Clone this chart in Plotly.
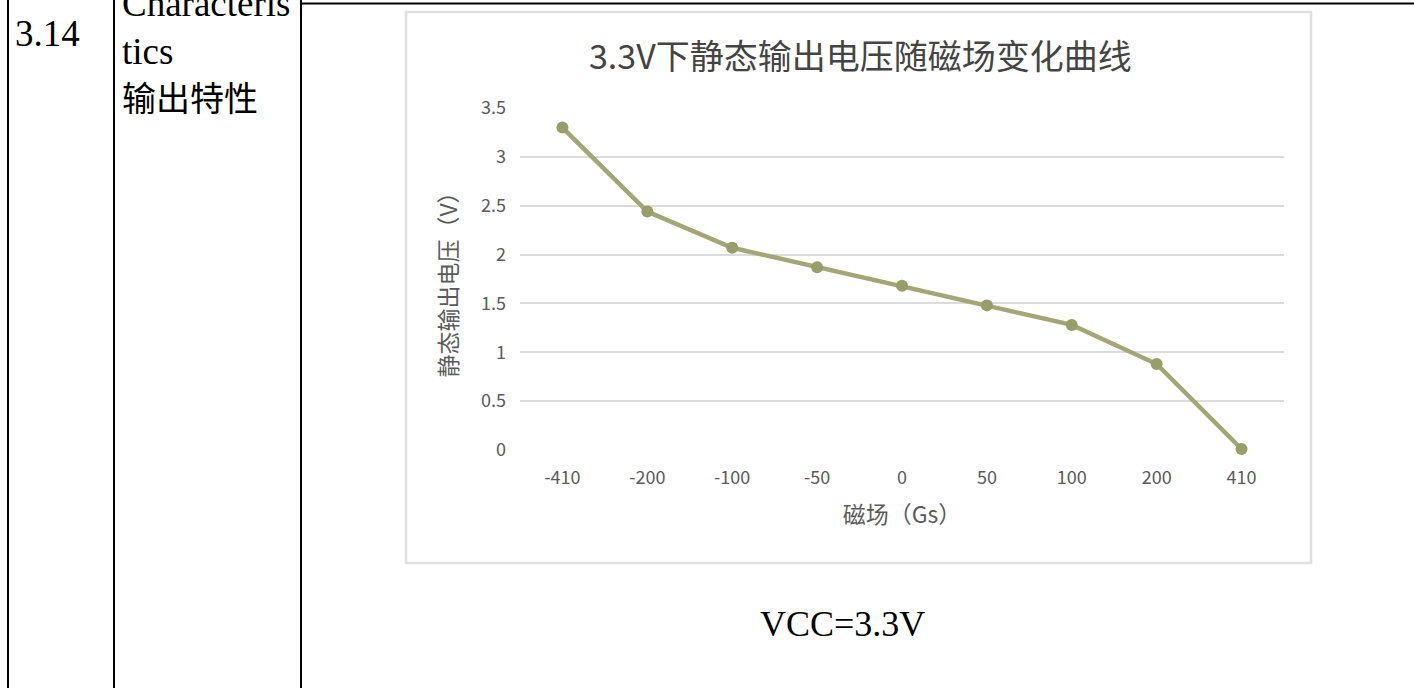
import plotly.graph_objects as go

# ---- data ----
field_labels = ["-410", "-200", "-100", "-50", "0", "50", "100", "200", "410"]
voltage = [3.30, 2.44, 2.07, 1.87, 1.68, 1.48, 1.28, 0.88, 0.01]
y_ticks = [0, 0.5, 1, 1.5, 2, 2.5, 3, 3.5]
y_tick_text = ["0", "0.5", "1", "1.5", "2", "2.5", "3", "3.5"]

W, H = 1414, 688


def px(x):
    return x / W


def py(y):
    return 1 - y / H


GRAY = "#5a5a5a"
CJK = "Noto Sans CJK SC, Noto Sans, sans-serif"
SERIF = "Liberation Serif, Times New Roman, serif"

fig = go.Figure()
fig.add_trace(go.Scatter(
    x=field_labels, y=voltage, mode="lines+markers",
    line=dict(color="#a3a675", width=4.5),
    marker=dict(color="#999d69", size=12, line=dict(color="#999d69", width=0)),
    cliponaxis=False, showlegend=False,
))

fig.update_layout(
    template="none",
    width=W, height=H,
    margin=dict(l=0, r=0, t=0, b=0, pad=0, autoexpand=False),
    paper_bgcolor="white", plot_bgcolor="white",
    xaxis=dict(
        domain=[px(520), px(1284)], type="category", automargin=False,
        range=[-0.5, 8.5], showgrid=False, zeroline=False, showline=False,
        ticks="", ticklabelstandoff=15,
        tickfont=dict(family=CJK, size=18, color=GRAY),
        title=dict(text="磁场（Gs）", font=dict(family=CJK, size=23, color=GRAY), standoff=18),
    ),
    yaxis=dict(
        domain=[py(450), py(108)], range=[0, 3.5], automargin=False,
        tickvals=y_ticks, ticktext=y_tick_text,
        showgrid=True, gridcolor="#dcdcdc", gridwidth=1.5,
        zeroline=False, showline=False, ticks="", ticklabelstandoff=13,
        tickfont=dict(family=CJK, size=18, color=GRAY),
        title=dict(text="静态输出电压（V）", font=dict(family=CJK, size=23, color=GRAY), standoff=16),
    ),
    shapes=[
        # chart picture frame
        dict(type="rect", xref="paper", yref="paper",
             x0=px(406), x1=px(1311), y0=py(563), y1=py(12),
             line=dict(color="#e0e0e0", width=2.5), layer="below"),
        # table lines
        dict(type="line", xref="paper", yref="paper",
             x0=px(8), x1=px(8), y0=0, y1=1, line=dict(color="black", width=2)),
        dict(type="line", xref="paper", yref="paper",
             x0=px(114), x1=px(114), y0=0, y1=1, line=dict(color="black", width=2)),
        dict(type="line", xref="paper", yref="paper",
             x0=px(301), x1=px(301), y0=0, y1=1, line=dict(color="black", width=2)),
        dict(type="line", xref="paper", yref="paper",
             x0=px(301), x1=1, y0=py(3.5), y1=py(3.5), line=dict(color="black", width=2)),
    ],
    annotations=[
        dict(text="3.3V下静态输出电压随磁场变化曲线", xref="paper", yref="paper",
             x=px(860), y=py(54), xanchor="center", yanchor="middle", showarrow=False,
             font=dict(family=CJK, size=34, color="#444444")),
        dict(text="3.14", xref="paper", yref="paper", x=px(13), y=py(34),
             xanchor="left", yanchor="middle", showarrow=False,
             font=dict(family=SERIF, size=37, color="black")),
        dict(text="Characteris", xref="paper", yref="paper", x=px(120), y=py(3),
             xanchor="left", yanchor="middle", showarrow=False,
             font=dict(family=SERIF, size=37, color="black")),
        dict(text="tics", xref="paper", yref="paper", x=px(120), y=py(51),
             xanchor="left", yanchor="middle", showarrow=False,
             font=dict(family=SERIF, size=37, color="black")),
        dict(text="输出特性", xref="paper", yref="paper", x=px(120), y=py(96),
             xanchor="left", yanchor="middle", showarrow=False,
             font=dict(family=CJK, size=34, color="black")),
        dict(text="VCC=3.3V", xref="paper", yref="paper", x=px(842), y=py(624),
             xanchor="center", yanchor="middle", showarrow=False,
             font=dict(family=SERIF, size=36, color="black")),
    ],
)

fig.write_html(
    "out.html",
    config={"displayModeBar": False},
    post_script="document.body.style.margin='0';document.body.style.overflow='hidden';",
)
